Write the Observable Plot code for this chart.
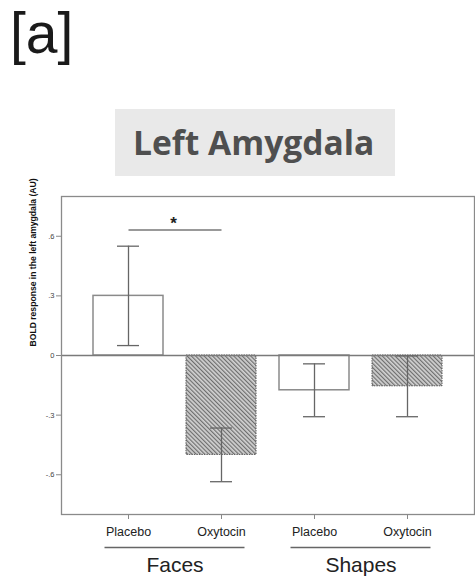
<!DOCTYPE html>
<html>
<head>
<meta charset="utf-8">
<script src="https://cdn.jsdelivr.net/npm/d3@7"></script>
<script src="https://cdn.jsdelivr.net/npm/@observablehq/plot@0.6"></script>
<style>
  html, body { margin: 0; padding: 0; background: #fff; }
  #wrap { position: relative; width: 475px; height: 579px; overflow: hidden; font-family: "Liberation Sans", Arial, sans-serif; }
  #panel { position: absolute; left: 10px; top: 0px; font-size: 57px; line-height: normal; color: #1a1a1a; }
  #title { position: absolute; left: 115px; top: 109px; width: 280px; height: 67px; background: #e9e9e9;
           box-sizing: border-box; padding-left: 18px; font-family: "Open Sans", Lato, sans-serif; font-weight: 700;
           font-size: 33.6px; line-height: 67px; color: #4f4f4f; white-space: nowrap; }
  #chart { position: absolute; left: 0; top: 0; }
</style>
</head>
<body>
<svg width="0" height="0" style="position:absolute">
  <defs>
    <pattern id="hatch" width="3" height="3" patternUnits="userSpaceOnUse" patternTransform="rotate(-45)">
      <rect width="3" height="3" fill="#d2d2d2"></rect>
      <line x1="0.6" y1="0" x2="0.6" y2="3" stroke="#6e6e6e" stroke-width="1.2"></line>
    </pattern>
  </defs>
</svg>
<div id="wrap">
  <div id="chart"></div>
  <div id="panel">[a]</div>
  <div id="title">Left Amygdala</div>
</div>
<script>
// Mean BOLD response (AU) in the left amygdala with error bars
const stimuli = ["Faces", "Faces", "Shapes", "Shapes"];
const treatments = ["Placebo", "Oxytocin", "Placebo", "Oxytocin"];
const means = [0.30, -0.50, -0.175, -0.155];
const errors = [0.25, 0.135, 0.133, 0.153];

const yTicks = [0.6, 0.3, 0, -0.3, -0.6];
const yTickLabels = [".6", ".3", "0", "-.3", "-.6"];
const groupNames = ["Faces", "Shapes"];

// significance bracket between the two Faces conditions
const sigLevel = 0.632;
const sigMark = "*";

const rows = stimuli.map((s, i) => ({
  key: s + "|" + treatments[i],
  stimulus: s,
  treatment: treatments[i],
  mean: means[i],
  lo: means[i] - errors[i],
  hi: means[i] + errors[i]
}));
const keys = rows.map(d => d.key);
const groups = groupNames.map(g => ({
  name: g,
  first: g + "|Placebo",
  last: g + "|Oxytocin"
}));

const W = 475, H = 579;
const chart = Plot.plot({
  width: W,
  height: H,
  marginTop: 196,
  marginBottom: 65,
  marginLeft: 61,
  marginRight: 1,
  style: { fontFamily: "Liberation Sans, Arial, sans-serif", background: "transparent", overflow: "visible" },
  x: { domain: keys, paddingInner: 0.243, paddingOuter: 0.34, axis: null },
  y: { domain: [-0.8, 0.8], axis: null },
  marks: [
    Plot.barY(rows.filter(d => d.treatment === "Placebo"), {
      x: "key", y: "mean", fill: "white", stroke: "#8a8a8a", strokeWidth: 1.5
    }),
    Plot.barY(rows.filter(d => d.treatment === "Oxytocin"), {
      x: "key", y: "mean", fill: "url(#hatch)", stroke: "#555", strokeWidth: 1, strokeDasharray: "1.5,1"
    }),
    Plot.ruleY([0], { stroke: "#7a7a7a", strokeWidth: 1.5 }),
    Plot.ruleX(rows, { x: "key", y1: "lo", y2: "hi", stroke: "#666", strokeWidth: 1.3 }),
    Plot.tickY(rows, { x: "key", y: "lo", stroke: "#666", strokeWidth: 1.3, insetLeft: 24, insetRight: 24 }),
    Plot.tickY(rows, { x: "key", y: "hi", stroke: "#666", strokeWidth: 1.3, insetLeft: 24, insetRight: 24 }),
    Plot.frame({ stroke: "#8a8a8a", strokeWidth: 1.3 }),
    // y axis
    Plot.axisY(yTicks, {
      ticks: yTicks, tickSize: 5, tickPadding: 2, fontSize: 7.5, stroke: "#888", color: "#444",
      tickFormat: (d) => yTickLabels[yTicks.indexOf(d)], label: null
    }),
    Plot.text(["BOLD response in the left amygdala (AU)"], {
      frameAnchor: "left", rotate: -90, dx: -28, dy: -9, fontWeight: "bold", fontSize: 8.6, fill: "#111"
    }),
    // x axis: treatment per bar
    Plot.axisX({
      tickSize: 5, tickPadding: 8, fontSize: 12.5, stroke: "#888", color: "#222",
      tickFormat: (k) => treatments[keys.indexOf(k)], label: null
    }),
    // stimulus group labels
    Plot.text(groups, {
      x: "first", text: "name", frameAnchor: "bottom", lineAnchor: "bottom",
      dx: 46.5, dy: 57.5, fontSize: 21, fill: "#222"
    }),
    // significance
    Plot.link([groups[0]], {
      x1: "first", x2: "last", y1: () => sigLevel, y2: () => sigLevel, stroke: "#777", strokeWidth: 1.5
    }),
    Plot.text([groups[0]], {
      x: "first", y: () => sigLevel, text: () => sigMark, dx: 45, dy: -1, lineAnchor: "bottom",
      fontSize: 17, fontWeight: "bold", fill: "#222"
    })
  ]
});

// underline under each stimulus group's treatment labels
const xs = chart.scale("x");
const half = xs.bandwidth / 2;
const svg = d3.select(chart);
groups.forEach(g => {
  const c = (xs.apply(g.first) + xs.apply(g.last)) / 2 + half;
  svg.append("line")
    .attr("x1", c - 70).attr("x2", c + 70)
    .attr("y1", 547.5).attr("y2", 547.5)
    .attr("stroke", "#666").attr("stroke-width", 1.5);
});

document.getElementById("chart").appendChild(chart);
</script>
</body>
</html>
